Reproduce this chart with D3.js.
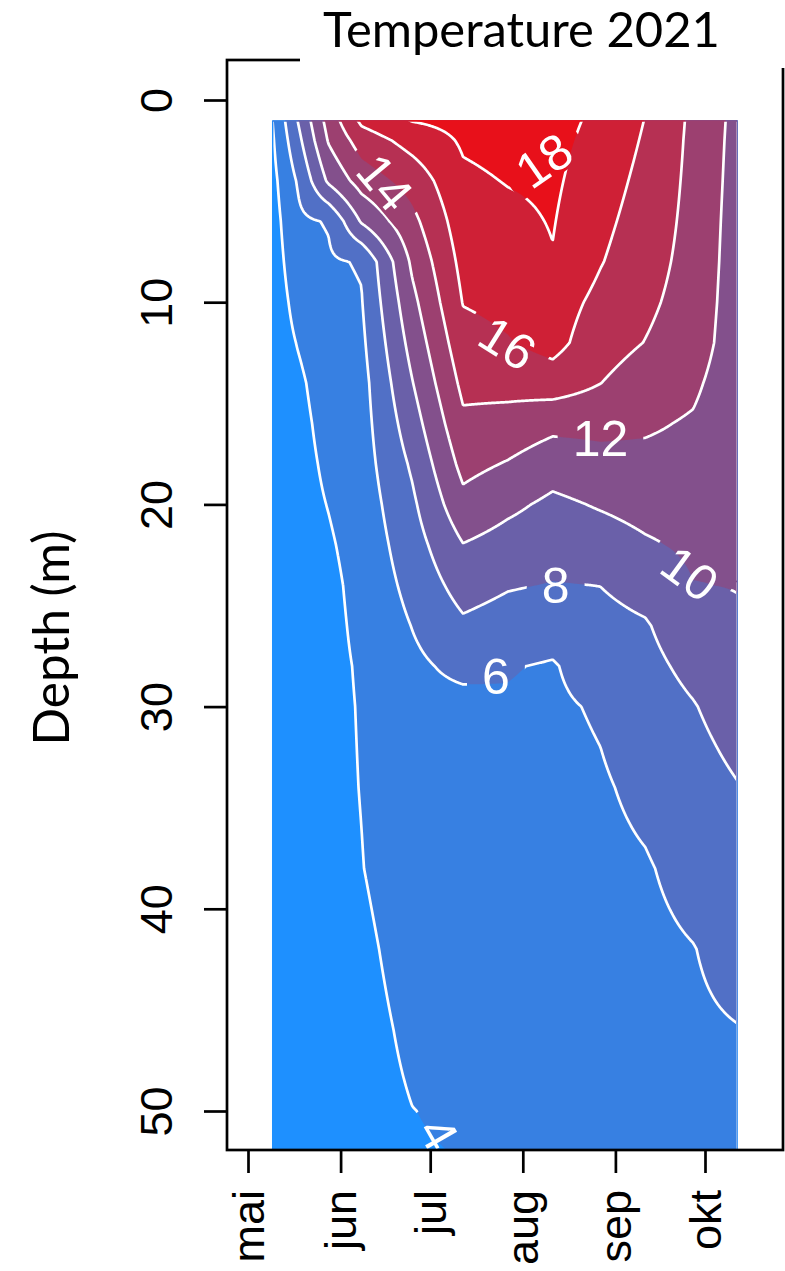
<!DOCTYPE html>
<html>
<head>
<meta charset="utf-8">
<title>Temperature 2021</title>
<script src="https://cdn.jsdelivr.net/npm/d3@7/dist/d3.min.js"></script>
<style>
  html, body { margin: 0; padding: 0; background: #ffffff; }
  svg { display: block; }
</style>
</head>
<body>
<svg id="chart" width="785" height="1271" xmlns="http://www.w3.org/2000/svg"></svg>
<script>
// ---------------- DATA ----------------
// sampling dates (columns of the temperature grid)
const sampleDates = ["2021-05-09","2021-05-18","2021-05-28","2021-06-08","2021-06-25","2021-07-12",
                     "2021-07-27","2021-08-11","2021-08-27","2021-09-11","2021-09-27","2021-10-12"];
// sampling depths (m)
const sampleDepths = [1,2,4,6,8,10,12,14,16,18,20,22,24,26,28,30,34,38,42,46,50,52];
// temperature profiles (deg C) for each sampling date, one value per depth
const t0509 = [3.9,3.7,3.4,3.2,3.1,3.0,3.0,3.0,3.0,3.0,3.0,3.0,3.0,3.0,3.0,3.0,3.0,3.0,3.0,3.0,3.0,3.0];
const t0518 = [8.2,7.56,6.29,5.61,5.12,4.62,4.12,3.7,3.5,3.4,3.35,3.3,3.3,3.3,3.3,3.3,3.3,3.3,3.3,3.3,3.3,3.3];
const t0528 = [12.8,12.18,10.34,6.15,5.75,5.46,5.18,4.9,4.62,4.34,4.06,3.8,3.57,3.5,3.5,3.5,3.5,3.45,3.45,3.4,3.4,3.4];
const t0608 = [16.44,14.94,12.86,10.2,6.15,5.9,5.6,5.3,5.2,5.1,4.9,4.7,4.55,4.4,4.2,4.12,4.05,3.95,3.65,3.45,3.4,3.4];
const t0625 = [18.1,16.73,14.79,13.47,12.36,11.48,10.7,9.92,9.1,8.29,7.65,7.12,6.59,6.05,5.6,5.45,5.2,4.95,4.66,4.32,3.98,3.9];
const t0712 = [18.6,18.24,17.65,17.12,16.6,16.08,15.31,14.49,13.6,12.6,11.41,9.94,8.8,7.66,6.51,5.38,5.2,5.0,4.8,4.5,4.21,4.04];
const t0727 = [18.8,18.56,18.08,17.56,17.02,16.48,15.88,14.63,13.29,11.86,10.43,9.24,8.16,7.13,6.1,5.85,5.5,5.2,4.95,4.75,4.55,4.5];
const t0811 = [18.6,18.5,18.3,18.1,17.9,17.02,16.7,15.0,12.54,10.84,9.6,8.77,7.91,6.77,5.85,5.7,5.4,5.15,4.95,4.8,4.65,4.6];
const t0827 = [17.62,17.4,16.97,16.54,16.11,15.45,14.73,14.02,12.57,11.31,10.17,9.08,8.02,7.47,6.95,6.2,5.8,5.55,5.35,5.15,5.0,4.95];
const t0911 = [15.95,15.77,15.41,15.06,14.7,14.34,13.96,13.13,12.29,11.47,10.65,9.77,8.63,7.84,7.49,7.13,6.42,5.85,5.6,5.4,5.25,5.2];
const t0927 = [13.6,13.55,13.5,13.45,13.4,13.3,13.1,12.4,11.78,11.3,10.82,10.34,9.95,9.13,8.47,7.9,7.24,6.58,5.95,5.75,5.6,5.55];
const t1012 = [11.4,11.34,11.23,11.11,11.0,10.88,10.76,10.64,10.53,10.41,10.29,10.18,10.06,9.77,9.3,8.84,7.93,7.25,6.58,5.95,5.8,5.75];

// contour levels and band colours (below 4, 4-6, ..., above 18)
const levels = [4,6,8,10,12,14,16,18];
const bandColors = ["#1e90ff","#3780e2","#5170c6","#6a60a9","#83508c","#9c4070","#b63053","#cf2036","#e8101a"];

// axis ticks
const monthTickDates = ["2021-05-01","2021-06-01","2021-07-01","2021-08-01","2021-09-01","2021-10-01"];
const monthTickLabels = ["mai","jun","jul","aug","sep","okt"];
const depthTicks = [0,10,20,30,40,50];

// contour labels: value text, date, depth, angle
const labelTexts  = ["18","14","16","12","10","8","6","4"];
const labelDates  = ["2021-08-08","2021-06-16","2021-07-27","2021-08-27","2021-09-26","2021-08-12","2021-07-23","2021-07-04"];
const labelDepths = [2.97,4.06,12.0,16.7,23.4,24.0,28.5,51.1];
const labelAngles = [-35,50,32,0,36,0,0,60];

const titleText = "Temperature 2021";
const yTitle = "Depth (m)";

// ---------------- CHART ----------------
const svg = d3.select("#chart");
const parse = d3.timeParse("%Y-%m-%d");

const xScale = d3.scaleTime()
  .domain([parse("2021-05-01"), parse("2021-10-01")])
  .range([248, 705]);
const yScale = d3.scaleLinear().domain([0, 50]).range([100, 1111]);

const frame = {left: 227, right: 783, top: 60, bottom: 1150};

const temps = [t0509,t0518,t0528,t0608,t0625,t0712,t0727,t0811,t0827,t0911,t0927,t1012];
const colX = sampleDates.map(d => xScale(parse(d)));
const rowY = sampleDepths.map(d => yScale(d));

// resample the grid on a pixel lattice (bilinear) for d3.contours
const step = 1;
const x0 = colX[0], x1 = colX[colX.length - 1];
const y0 = rowY[0], y1 = rowY[rowY.length - 1];
const nx = Math.floor((x1 - x0) / step) + 1;
const ny = Math.floor((y1 - y0) / step) + 1;

function locate(arr, v) {
  let k = d3.bisectRight(arr, v) - 1;
  k = Math.max(0, Math.min(arr.length - 2, k));
  let f = (v - arr[k]) / (arr[k + 1] - arr[k]);
  f = Math.max(0, Math.min(1, f));
  return [k, f];
}
const ci = [], cf = [];
for (let i = 0; i < nx; i++) { const [k, f] = locate(colX, x0 + i * step); ci.push(k); cf.push(f); }
const values = new Float64Array(nx * ny);
for (let j = 0; j < ny; j++) {
  const [r, fy] = locate(rowY, y0 + j * step);
  for (let i = 0; i < nx; i++) {
    const c = ci[i], fx = cf[i];
    const a = temps[c][r], b = temps[c + 1][r], cc = temps[c][r + 1], d = temps[c + 1][r + 1];
    values[j * nx + i] = (1 - fx) * (1 - fy) * a + fx * (1 - fy) * b + (1 - fx) * fy * cc + fx * fy * d;
  }
}

const contours = d3.contours().size([nx, ny]).thresholds(levels)(values);
const proj = d3.geoTransform({
  point(x, y) { this.stream.point(x0 + (x - 0.5) * step, y0 + (y - 0.5) * step); }
});
const path = d3.geoPath(proj);

const defs = svg.append("defs");
const yBottom = Math.min(y1, frame.bottom);
defs.append("clipPath").attr("id", "dataClip")
  .append("rect").attr("x", x0).attr("y", y0).attr("width", x1 - x0).attr("height", yBottom - y0);
defs.append("clipPath").attr("id", "lineClip")
  .append("rect").attr("x", x0 + 1.5).attr("y", y0 + 1.5).attr("width", x1 - x0 - 3).attr("height", yBottom - y0 - 1.5);
const mask = defs.append("mask").attr("id", "labelMask")
  .attr("maskUnits", "userSpaceOnUse").attr("x", 0).attr("y", 0).attr("width", 785).attr("height", 1271);
mask.append("rect").attr("width", 785).attr("height", 1271).attr("fill", "white");

// filled bands
const fillG = svg.append("g").attr("clip-path", "url(#dataClip)");
fillG.append("rect").attr("x", x0).attr("y", y0).attr("width", x1 - x0).attr("height", yBottom - y0)
  .attr("fill", bandColors[0]);
fillG.selectAll("path.band").data(contours).join("path")
  .attr("class", "band")
  .attr("d", path)
  .attr("fill", (d, i) => bandColors[i + 1]);

// contour lines
const lineOuter = svg.append("g").attr("clip-path", "url(#lineClip)");
const lineG = lineOuter.append("g").attr("mask", "url(#labelMask)");
lineG.selectAll("path.iso").data(contours).join("path")
  .attr("class", "iso")
  .attr("d", path)
  .attr("fill", "none")
  .attr("stroke", "#ffffff")
  .attr("stroke-width", 2.7)
  .attr("stroke-linejoin", "round");

// contour labels
const labelFont = 50;
const labG = svg.append("g").attr("clip-path", "url(#dataClip)");
labelTexts.forEach((t, i) => {
  const px = xScale(parse(labelDates[i])), py = yScale(labelDepths[i]);
  const txt = labG.append("text")
    .attr("transform", `translate(${px},${py}) rotate(${labelAngles[i]})`)
    .attr("text-anchor", "middle")
    .attr("dy", "0.36em")
    .style("font-family", "'Liberation Sans', Arial, Helvetica, sans-serif")
    .style("font-size", labelFont + "px")
    .attr("fill", "#ffffff")
    .text(t);
  const w = txt.node().getComputedTextLength() + 30;
  const h = labelFont * 0.85;
  mask.append("rect")
    .attr("x", -w / 2).attr("y", -h / 2).attr("width", w).attr("height", h)
    .attr("transform", `translate(${px},${py}) rotate(${labelAngles[i]})`)
    .attr("fill", "black");
});

// frame
svg.append("rect")
  .attr("x", frame.left).attr("y", frame.top)
  .attr("width", frame.right - frame.left).attr("height", frame.bottom - frame.top)
  .attr("fill", "none").attr("stroke", "#000").attr("stroke-width", 2.7);

// axes
const tickFont = "'Liberation Sans', Arial, Helvetica, sans-serif";
const yAxis = d3.axisLeft(yScale).tickValues(depthTicks).tickSize(23).tickFormat(d3.format("d"));
const yG = svg.append("g").attr("transform", `translate(${frame.left},0)`).call(yAxis);
yG.select(".domain").remove();
yG.selectAll(".tick line").attr("stroke", "#000").attr("stroke-width", 2.7);
yG.selectAll(".tick text")
  .attr("x", null).attr("dy", null)
  .attr("transform", "translate(-55,0) rotate(-90)")
  .attr("text-anchor", "middle")
  .style("font-family", tickFont).style("font-size", "45px").attr("fill", "#000");

const xAxis = d3.axisBottom(xScale)
  .tickValues(monthTickDates.map(parse))
  .tickSize(23)
  .tickFormat((d, i) => monthTickLabels[i]);
const xG = svg.append("g").attr("transform", `translate(0,${frame.bottom})`).call(xAxis);
xG.select(".domain").remove();
xG.selectAll(".tick line").attr("stroke", "#000").attr("stroke-width", 2.7);
xG.selectAll(".tick text")
  .attr("y", null).attr("dy", null)
  .attr("transform", "translate(15,40) rotate(-90)")
  .attr("text-anchor", "end")
  .style("font-family", tickFont).style("font-size", "45px").attr("fill", "#000");

// title (with white background box, as in the original)
svg.append("rect").attr("x", 300).attr("y", 0).attr("width", 485).attr("height", 68).attr("fill", "#fff");
const title = svg.append("text")
  .attr("x", 323).attr("y", 47)
  .style("font-family", "Lato, 'Open Sans', sans-serif")
  .style("font-size", "44px").attr("fill", "#000")
  .text(titleText);
const tw = title.node().getComputedTextLength();
title.style("font-size", (44 * 397 / tw) + "px");

// y axis title
const yt = svg.append("text")
  .attr("transform", "translate(69,638) rotate(-90)")
  .attr("text-anchor", "middle")
  .style("font-family", "Lato, 'Open Sans', sans-serif")
  .style("font-size", "44px").attr("fill", "#000")
  .text(yTitle);
const yw = yt.node().getComputedTextLength();
yt.style("font-size", (44 * 215 / yw) + "px");
</script>
</body>
</html>
